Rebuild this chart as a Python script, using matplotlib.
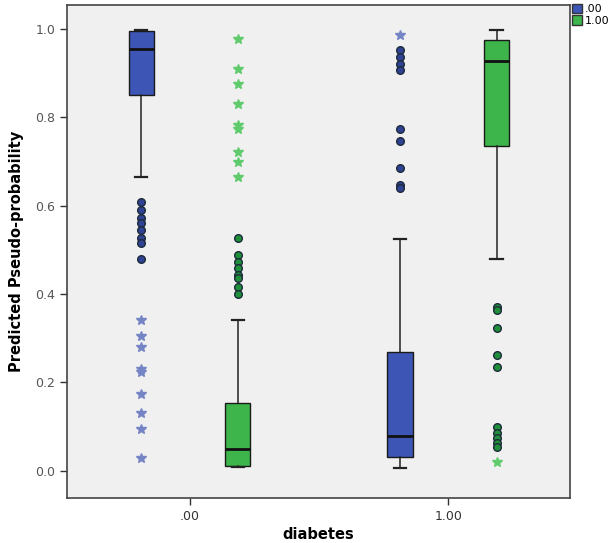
import matplotlib
matplotlib.use("Agg")
import matplotlib.pyplot as plt
from matplotlib.patches import Patch
import numpy as np

groups = [".00", "1.00"]
series = [".00", "1.00"]

# box stats per (group, series): whislo, q1, med, q3, whishi
box_00 = [0.664, 0.850, 0.955, 0.994, 0.998]
box_01 = [0.007, 0.011, 0.049, 0.152, 0.341]
box_10 = [0.005, 0.030, 0.078, 0.268, 0.524]
box_11 = [0.478, 0.735, 0.928, 0.975, 0.998]

# outliers (circles) and extremes (stars)
circ_00 = [0.607, 0.590, 0.571, 0.561, 0.544, 0.526, 0.515, 0.479]
star_00 = [0.341, 0.305, 0.280, 0.231, 0.224, 0.173, 0.130, 0.094, 0.028]
circ_01 = [0.526, 0.488, 0.473, 0.458, 0.443, 0.435, 0.416, 0.399]
star_01 = [0.977, 0.909, 0.875, 0.830, 0.783, 0.774, 0.722, 0.698, 0.664]
circ_10 = [0.952, 0.936, 0.920, 0.907, 0.773, 0.745, 0.685, 0.647, 0.640]
star_10 = [0.986]
circ_11 = [0.370, 0.364, 0.323, 0.262, 0.235, 0.099, 0.084, 0.073, 0.062, 0.053]
star_11 = [0.020]

blue = "#3D55B4"
green = "#3DB54A"
blue_dot = "#2F4293"
green_dot = "#1F8F3A"
blue_star = "#7584C4"
green_star = "#5FCB6C"

fig = plt.figure(figsize=(6.10, 5.43), dpi=100)
ax = fig.add_axes([0.110, 0.083, 0.824, 0.907])
ax.set_facecolor("#F0F0F0")

off = 0.187
width = 0.097
boxes = [box_00, box_01, box_10, box_11]
pos = [0 - off, 0 + off, 1 - off, 1 + off]
cols = [blue, green, blue, green]
stats = []
for b in boxes:
    stats.append(dict(whislo=b[0], q1=b[1], med=b[2], q3=b[3], whishi=b[4], fliers=[]))
bp = ax.bxp(stats, positions=pos, widths=width, patch_artist=True, showfliers=False,
            capwidths=width * 0.5,
            boxprops=dict(linewidth=1.0, edgecolor="#1a1a1a"),
            medianprops=dict(color="#111111", linewidth=2.0),
            whiskerprops=dict(color="#222222", linewidth=1.1),
            capprops=dict(color="#222222", linewidth=1.6))
for patch, c in zip(bp["boxes"], cols):
    patch.set_facecolor(c)

circs = [circ_00, circ_01, circ_10, circ_11]
stars = [star_00, star_01, star_10, star_11]
dcols = [blue_dot, green_dot, blue_dot, green_dot]
scols = [blue_star, green_star, blue_star, green_star]
for p, cv, sv, dc, sc in zip(pos, circs, stars, dcols, scols):
    ax.plot(np.full(len(cv), p), cv, "o", ms=5.5, mfc=dc, mec="#1c2a3a", mew=1.0, ls="none", zorder=3)
    ax.plot(np.full(len(sv), p), sv, "*", ms=7, mfc=sc, mec=sc, ls="none", zorder=3)

ax.set_xlim(-0.473, 1.469)
ax.set_ylim(-0.062, 1.053)
ax.set_xticks([0, 1])
ax.set_xticklabels(groups, fontsize=9, color="#333333")
ax.set_yticks(np.arange(0, 1.01, 0.2))
ax.set_yticklabels(["%.1f" % v for v in np.arange(0, 1.01, 0.2)], fontsize=9, color="#555555")
ax.tick_params(axis="both", direction="out", length=5, width=1.0, color="#333333")
for s in ax.spines.values():
    s.set_color("#444444")
    s.set_linewidth(1.2)

ax.set_xlabel("diabetes", fontsize=10.5, fontweight="bold", labelpad=3)
ax.set_ylabel("Predicted Pseudo-probability", fontsize=10.5, fontweight="bold", labelpad=8)

handles = [Patch(facecolor=blue, edgecolor="#333333", label=series[0]),
           Patch(facecolor=green, edgecolor="#333333", label=series[1])]
fig.legend(handles=handles, loc="upper left", bbox_to_anchor=(0.936, 0.995), frameon=False,
           fontsize=8, handlelength=0.9, handleheight=0.9, handletextpad=0.25,
           labelspacing=0.1, borderaxespad=0.0, borderpad=0.1)

fig.savefig("out.png", dpi=100)
